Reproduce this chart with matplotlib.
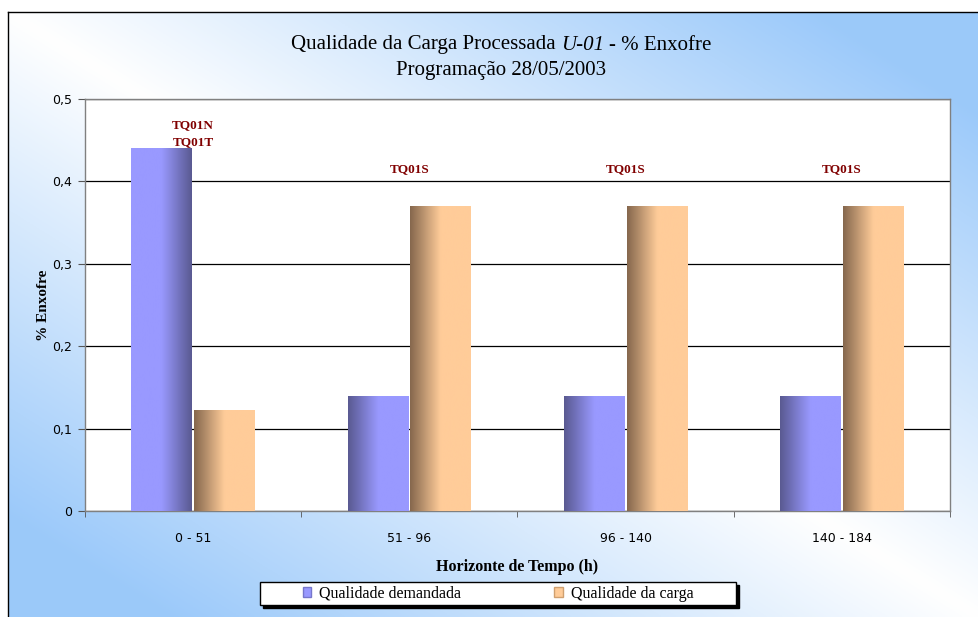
import matplotlib
matplotlib.use("Agg")
import matplotlib.pyplot as plt
import numpy as np
from matplotlib.colors import LinearSegmentedColormap
from matplotlib.patches import Patch, Rectangle

periodos = ["0 - 51", "51 - 96", "96 - 140", "140 - 184"]
qualidade_demandada = [0.44, 0.14, 0.14, 0.14]
qualidade_carga = [0.123, 0.37, 0.37, 0.37]
tanques = ["TQ01N\nTQ01T", "TQ01S", "TQ01S", "TQ01S"]
tanque_y = [0.458, 0.415, 0.415, 0.415]
yticks = [0, 0.1, 0.2, 0.3, 0.4, 0.5]
titulo = ["Qualidade da Carga Processada", "U-01", "- % Enxofre"]
subtitulo = "Programação 28/05/2003"

W, H = 979, 617
fig = plt.figure(figsize=(W / 100, H / 100), dpi=100)
fig.patch.set_facecolor("white")

# diagonal background: white along TL-BR, light blue at the other corners
bg = fig.add_axes([8 / W, 0, 1 - 8 / W, 1 - 12 / H], zorder=-5)
u = np.linspace(0, 1, 400)[None, :]
v = np.linspace(0, 1, 300)[:, None]
d = np.clip(np.abs(u - v) * 1.2, 0, 1)
white = np.array([1.0, 1.0, 1.0])
blue = np.array([0.61, 0.79, 0.98])
img = white + d[..., None] * (blue - white)
bg.imshow(img, extent=[0, 1, 1, 0], aspect="auto")
bg.set_xlim(0, 1)
bg.set_ylim(1, 0)
bg.set_xticks([])
bg.set_yticks([])
for s in ["right", "bottom"]:
    bg.spines[s].set_visible(False)
for s in ["left", "top"]:
    bg.spines[s].set_color("black")
    bg.spines[s].set_linewidth(1.0)

ax = fig.add_axes([85 / W, 1 - 511 / H, 865 / W, 412 / H])
ax.set_facecolor("white")

x = np.arange(len(periodos))
w = 0.28
b1 = ax.bar(x - w / 2 - 0.005, qualidade_demandada, w, color="#9999FF",
            label="Qualidade demandada", zorder=2)
b2 = ax.bar(x + w / 2 + 0.005, qualidade_carga, w, color="#FFCC99",
            label="Qualidade da carga", zorder=2)


def shade(bar, light, dark, dark_left=True):
    # horizontal gradient clipped to the bar
    x0, y0 = bar.get_x(), bar.get_y()
    x1, y1 = x0 + bar.get_width(), y0 + bar.get_height()
    cmap = LinearSegmentedColormap.from_list("g", [dark, light, light])
    g = np.linspace(0, 1, 64)[None, :]
    if not dark_left:
        g = g[:, ::-1]
    im = ax.imshow(g, cmap=cmap, extent=[x0, x1, y0, y1], aspect="auto",
                   zorder=3, interpolation="bicubic")
    im.set_clip_path(bar)


for i, bar in enumerate(b1):
    shade(bar, "#9999FF", "#5A5A92", dark_left=(i != 0))
for bar in b2:
    shade(bar, "#FFCC99", "#86684E", dark_left=True)

ax.set_xlim(-0.5, 3.5)
ax.set_ylim(0, 0.5)

ax.set_yticks(yticks)
ax.set_yticklabels([f"{t:g}".replace(".", ",") for t in yticks])
ax.yaxis.grid(True, color="black", linewidth=0.9)
ax.set_axisbelow(True)

ax.set_xticks(x)
ax.set_xticklabels(periodos)
ax.set_xticks(np.arange(-0.5, 4, 1), minor=True)
ax.tick_params(axis="x", which="major", length=0, pad=15, labelsize=9)
ax.tick_params(axis="x", which="minor", length=4, direction="out", color="#555555")
ax.tick_params(axis="y", length=5, direction="out", pad=4, labelsize=9, color="#555555")

for s in ax.spines.values():
    s.set_color("#808080")
    s.set_linewidth(1.0)

for xi, txt, ty in zip(x, tanques, tanque_y):
    ax.text(xi, ty, txt, ha="center", va="center", color="#800000",
            fontsize=9.5, fontweight="bold", family="Liberation Serif",
            linespacing=1.5)

ax.set_ylabel("% Enxofre", family="Liberation Serif", fontweight="bold",
              fontsize=11, labelpad=2)
ax.set_xlabel("Horizonte de Tempo (h)", family="Liberation Serif",
              fontweight="bold", fontsize=11.5, labelpad=10)

# title: three pieces, the unit name in italics
fs_title = 15
renderer = fig.canvas.get_renderer()
pieces = []
for k, txt in enumerate(titulo):
    style = "italic" if k == 1 else "normal"
    t = fig.text(0, 1 - 45 / H, txt, ha="left", va="center", fontsize=fs_title,
                 family="Liberation Serif", style=style)
    pieces.append(t)
sp = fig.text(0, 0, "a a", fontsize=fs_title, family="Liberation Serif")
aa = fig.text(0, 0, "aa", fontsize=fs_title, family="Liberation Serif")
space = (sp.get_window_extent(renderer).width
         - aa.get_window_extent(renderer).width) / W
sp.remove()
aa.remove()
widths = [p.get_window_extent(renderer).width / W for p in pieces]
total = sum(widths) + space * (len(widths) - 1)
cx = 0.512
xpos = cx - total / 2
for p, wd in zip(pieces, widths):
    p.set_x(xpos)
    xpos += wd + space
fig.text(cx, 1 - 70 / H, subtitulo, ha="center", va="center",
         fontsize=fs_title, family="Liberation Serif")

# legend box with drop shadow
lx, ly, lw, lh = 260 / W, 1 - 605 / H, 476 / W, 23 / H
fig.patches.append(Rectangle((lx + 3 / W, ly - 3 / H), lw, lh,
                             transform=fig.transFigure, facecolor="black",
                             edgecolor="black", zorder=1))
fig.patches.append(Rectangle((lx, ly), lw, lh, transform=fig.transFigure,
                             facecolor="white", edgecolor="black",
                             linewidth=1.0, zorder=2))
handles = [Patch(facecolor="#9999FF", edgecolor="#7777CC"),
           Patch(facecolor="#FFCC99", edgecolor="#D0A070")]
leg = fig.legend(handles, ["Qualidade demandada", "Qualidade da carga"],
                 loc="center", bbox_to_anchor=(lx + lw / 2, ly + lh / 2),
                 ncol=2, frameon=False, handlelength=0.55, handleheight=0.55,
                 handletextpad=0.5, columnspacing=5.8,
                 prop={"family": "Liberation Serif", "size": 11.5})
leg.set_zorder(3)

fig.savefig("out.png", dpi=100)
